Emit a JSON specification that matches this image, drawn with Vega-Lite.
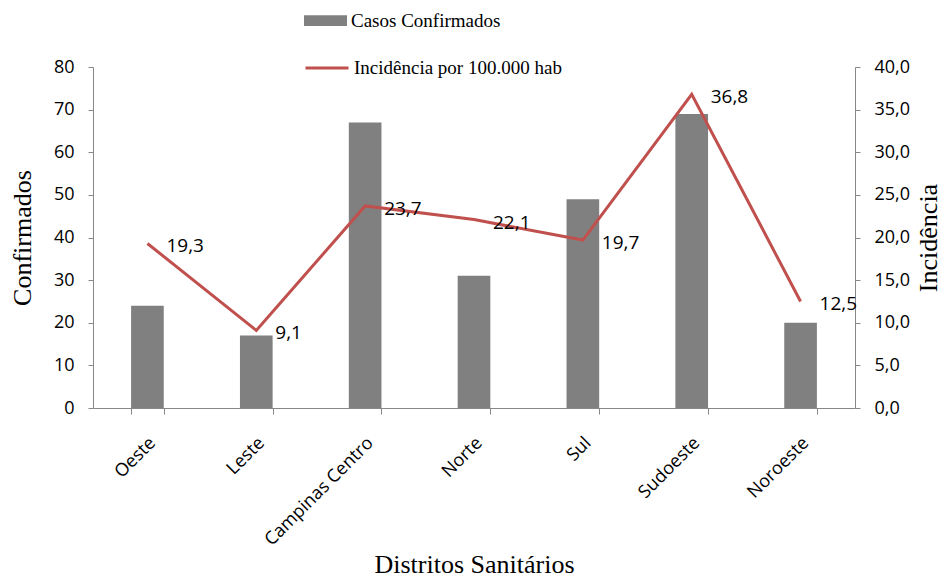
{
  "$schema": "https://vega.github.io/schema/vega-lite/v6.json",
  "autosize": {"type": "none"},
  "width": 762,
  "height": 341,
  "padding": {"left": 93, "top": 67, "right": 87, "bottom": 172},
  "background": "white",
  "config": {
    "view": {"stroke": null},
    "locale": {"number": {"decimal": ",", "thousands": ".", "grouping": [3], "currency": ["R$", ""]}},
    "axis": {"grid": false, "domainColor": "#888888", "tickColor": "#888888", "labelColor": "#000000", "labelFont": "Open Sans", "labelFontSize": 18, "titleFont": "Liberation Serif", "titleFontSize": 26, "titleFontWeight": "normal", "titleColor": "#000000", "tickSize": 5, "labelOverlap": false}
  },
  "data": {"values": [
    {"distrito": "Oeste", "casos": 24, "incidencia": 19.3},
    {"distrito": "Leste", "casos": 17, "incidencia": 9.1},
    {"distrito": "Campinas Centro", "casos": 67, "incidencia": 23.7},
    {"distrito": "Norte", "casos": 31, "incidencia": 22.1},
    {"distrito": "Sul", "casos": 49, "incidencia": 19.7},
    {"distrito": "Sudoeste", "casos": 69, "incidencia": 36.8},
    {"distrito": "Noroeste", "casos": 20, "incidencia": 12.5}
  ]},
  "encoding": {
    "x": {"field": "distrito", "type": "nominal", "sort": null,
      "scale": {"paddingInner": 0.7, "paddingOuter": 0.35},
      "axis": {"title": "Distritos Sanitários", "labelAngle": -45, "labelAlign": "right", "labelBaseline": "middle", "labelPadding": 26, "labelOffset": 5, "tickBand": "extent", "tickSize": 6, "titlePadding": 3}}
  },
  "layer": [
    {
      "mark": {"type": "bar", "color": "#808080"},
      "encoding": {
        "y": {"field": "casos", "type": "quantitative", "scale": {"domain": [0, 80]},
          "axis": {"title": "Confirmados", "values": [0,10,20,30,40,50,60,70,80], "labelPadding": 14, "titlePadding": 18}},
        "fill": {"datum": "Casos Confirmados", "type": "nominal",
          "scale": {"range": ["#808080"]},
          "legend": {"title": null, "orient": "none", "legendX": 211, "legendY": -68, "symbolType": "M-1,-0.25H1V0.25H-1Z", "symbolSize": 1849, "symbolStrokeWidth": 0, "symbolOpacity": 1, "labelFont": "Liberation Serif", "labelFontSize": 19, "labelColor": "#000000", "labelOffset": 4, "labelLimit": 400, "padding": 0}}
      }
    },
    {
      "encoding": {
        "y": {"field": "incidencia", "type": "quantitative", "scale": {"domain": [0, 40]},
          "axis": {"title": "Incidência", "orient": "right", "format": ".1f", "values": [0,5,10,15,20,25,30,35,40], "labelPadding": 14, "titleAngle": -90, "titlePadding": 32}}
      },
      "layer": [
        {
          "mark": {"type": "line", "strokeWidth": 3},
          "encoding": {
            "stroke": {"datum": "Incidência por 100.000 hab", "type": "nominal",
              "scale": {"range": ["#C0504D"]},
              "legend": {"title": null, "orient": "none", "legendX": 211, "legendY": -22, "symbolType": "stroke", "symbolSize": 1849, "symbolStrokeWidth": 3, "labelFont": "Liberation Serif", "labelFontSize": 19, "labelColor": "#000000", "labelOffset": 4, "labelLimit": 400, "padding": 0}}
          }
        },
        {
          "mark": {"type": "text", "align": "left", "baseline": "middle", "dx": 19, "dy": 3, "font": "Open Sans", "fontSize": 19, "color": "#000000"},
          "encoding": {
            "text": {"field": "incidencia", "type": "quantitative", "format": ".1f"}
          }
        }
      ]
    }
  ],
  "resolve": {"scale": {"y": "independent"}}
}
